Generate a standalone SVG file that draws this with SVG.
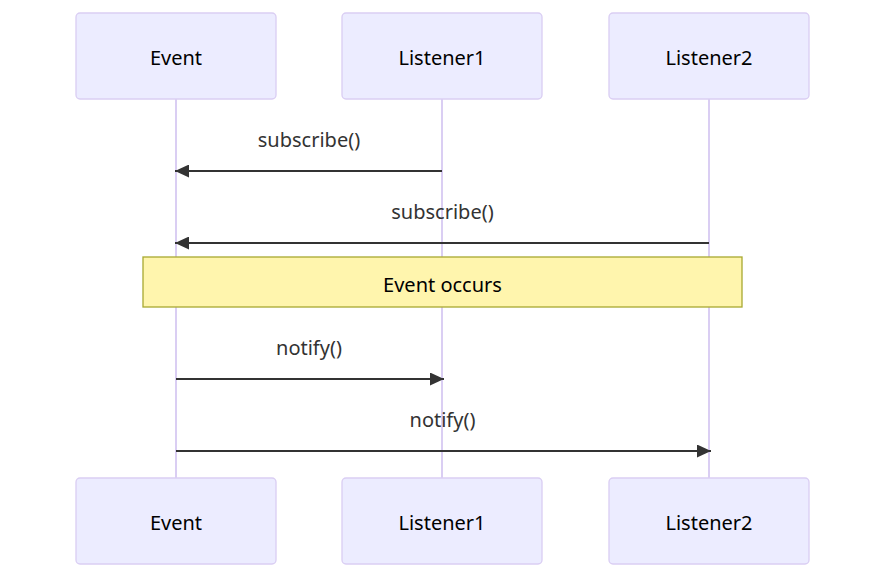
<svg xmlns="http://www.w3.org/2000/svg" width="885" height="579" viewBox="0 0 885 579">
<defs>
<style>
.actor{fill:#ECECFF;stroke:#DACEF3;stroke-width:1.33}
.atext{font-family:"Noto Sans","DejaVu Sans",sans-serif;font-size:20px;fill:#000;text-anchor:middle;dominant-baseline:central}
.life{stroke:#DACEF3;stroke-width:2}
.msg{stroke:#333;stroke-width:2;fill:none}
.mtext{font-family:"Noto Sans","DejaVu Sans",sans-serif;font-size:20px;fill:#333;text-anchor:middle}
.note{fill:#FFF5AD;stroke:#AAAA33;stroke-width:1.33}
.ntext{font-family:"Noto Sans","DejaVu Sans",sans-serif;font-size:20px;fill:#000;text-anchor:middle;dominant-baseline:central}
</style>
<marker id="arrow" markerUnits="userSpaceOnUse" viewBox="0 0 14 13" refX="14" refY="6.5" markerWidth="14" markerHeight="13" orient="auto">
<path d="M0,0 L14,6.5 L0,13 z" fill="#333"/>
</marker>
</defs>
<rect width="885" height="579" fill="#fff"/>
<g id="lifelines">
<line class="life" x1="176" y1="99" x2="176" y2="478"/>
<line class="life" x1="442" y1="99" x2="442" y2="478"/>
<line class="life" x1="709" y1="99" x2="709" y2="478"/>
</g>
<g id="actor-event-top"><rect class="actor" x="76" y="13" width="200" height="86" rx="4"/><text class="atext" x="176" y="57">Event</text></g>
<g id="actor-listener1-top"><rect class="actor" x="342" y="13" width="200" height="86" rx="4"/><text class="atext" x="442" y="57">Listener1</text></g>
<g id="actor-listener2-top"><rect class="actor" x="609" y="13" width="200" height="86" rx="4"/><text class="atext" x="709" y="57">Listener2</text></g>
<g id="actor-event-bottom"><rect class="actor" x="76" y="478" width="200" height="86" rx="4"/><text class="atext" x="176" y="522">Event</text></g>
<g id="actor-listener1-bottom"><rect class="actor" x="342" y="478" width="200" height="86" rx="4"/><text class="atext" x="442" y="522">Listener1</text></g>
<g id="actor-listener2-bottom"><rect class="actor" x="609" y="478" width="200" height="86" rx="4"/><text class="atext" x="709" y="522">Listener2</text></g>
<g id="note-event-occurs"><rect class="note" x="143" y="257" width="599" height="50"/><text class="ntext" x="442.5" y="284">Event occurs</text></g>
<g id="connectors">
<line class="msg" x1="442" y1="171" x2="175" y2="171" marker-end="url(#arrow)"/>
<text class="mtext" x="309" y="147">subscribe()</text>
<line class="msg" x1="709" y1="243" x2="175" y2="243" marker-end="url(#arrow)"/>
<text class="mtext" x="442.5" y="219">subscribe()</text>
<line class="msg" x1="176" y1="379" x2="444" y2="379" marker-end="url(#arrow)"/>
<text class="mtext" x="309" y="355">notify()</text>
<line class="msg" x1="176" y1="451" x2="711" y2="451" marker-end="url(#arrow)"/>
<text class="mtext" x="442.5" y="427">notify()</text>
</g>
</svg>
